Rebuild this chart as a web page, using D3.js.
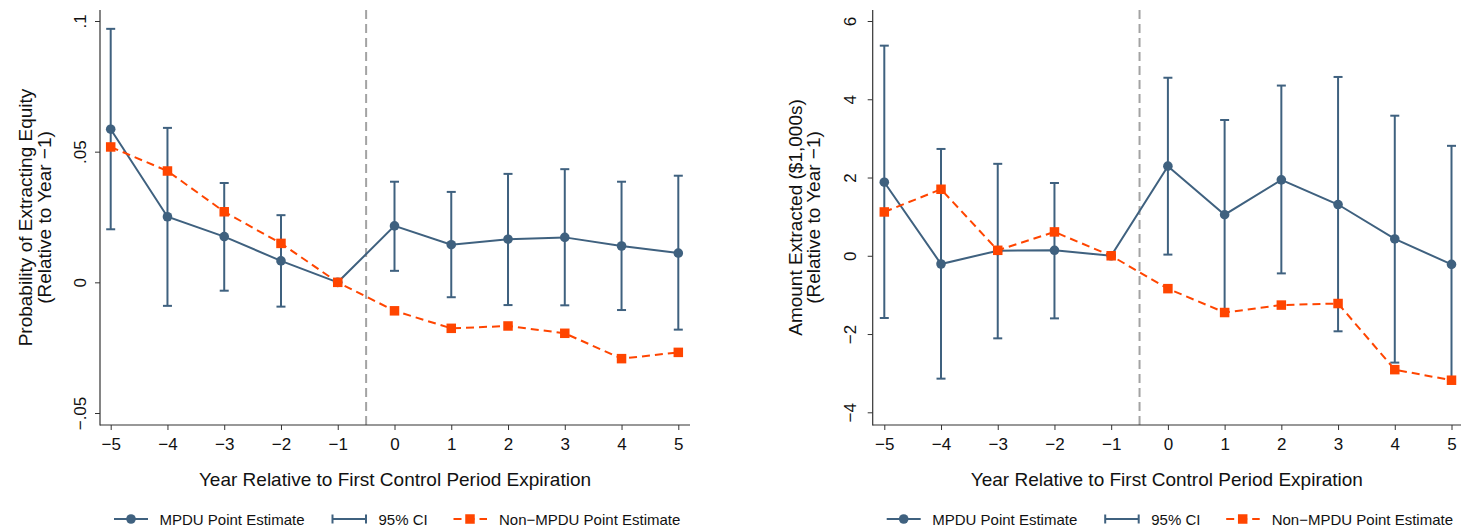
<!DOCTYPE html>
<html>
<head>
<meta charset="utf-8">
<script src="https://cdn.jsdelivr.net/npm/d3@7"></script>
<style>
  html, body { margin: 0; padding: 0; background: #fff; }
  svg { display: block; font-family: "Liberation Sans", Arial, Helvetica, sans-serif; }
</style>
</head>
<body>
<svg id="chart" width="1461" height="528"></svg>
<script>
// ---------- DATA ----------
const years = [-5, -4, -3, -2, -1, 0, 1, 2, 3, 4, 5];
const xTickLabels = ["\u22125", "\u22124", "\u22123", "\u22122", "\u22121", "0", "1", "2", "3", "4", "5"];

// Left panel: probability of extracting equity
const probMPDU = [0.0586, 0.0251, 0.0175, 0.0082, 0, 0.0216, 0.0144, 0.0165, 0.0172, 0.0139, 0.0112];
const probLow  = [0.0203, -0.0090, -0.0032, -0.0093, null, 0.0044, -0.0057, -0.0087, -0.0088, -0.0106, -0.0181];
const probHigh = [0.0970, 0.0591, 0.0380, 0.0257, null, 0.0385, 0.0346, 0.0415, 0.0433, 0.0385, 0.0408];
const probNon  = [0.0518, 0.0426, 0.0270, 0.0149, 0, -0.0109, -0.0176, -0.0167, -0.0195, -0.0292, -0.0268];
const probTicks = [-0.05, 0, 0.05, 0.1];
const probTickLabels = ["\u2212.05", "0", ".05", ".1"];

// Right panel: amount extracted ($1,000s)
const amtMPDU = [1.88, -0.21, 0.13, 0.14, 0, 2.29, 1.05, 1.94, 1.31, 0.43, -0.22];
const amtLow  = [-1.59, -3.14, -2.11, -1.60, null, 0.03, -1.37, -0.45, -1.93, -2.73, -3.25];
const amtHigh = [5.37, 2.73, 2.35, 1.86, null, 4.55, 3.47, 4.35, 4.57, 3.58, 2.81];
const amtNon  = [1.12, 1.70, 0.14, 0.61, 0, -0.84, -1.45, -1.26, -1.22, -2.91, -3.18];
const amtTicks = [-4, -2, 0, 2, 4, 6];
const amtTickLabels = ["\u22124", "\u22122", "0", "2", "4", "6"];

const xTitle = "Year Relative to First Control Period Expiration";
const legendLabels = ["MPDU Point Estimate", "95% CI", "Non\u2212MPDU Point Estimate"];

// ---------- STYLE / LAYOUT ----------
const C_MPDU = "#3f617f";
const C_NON = "#ff4500";
const C_AXIS = "#333";
const C_REF = "#a3a3a3";

const svg = d3.select("#chart");

const panels = [
  {
    axisX: 100, axisRight: 690, top: 10, bottom: 425,
    xRange: [110.7, 678.3], yDomain: [-0.05, 0.1], yRange: [413, 21],
    mpdu: probMPDU, lo: probLow, hi: probHigh, non: probNon,
    yTicks: probTicks, yTickLabels: probTickLabels, yLabelOff: 14,
    yTitle: ["Probability of Extracting Equity", "(Relative to Year \u22121)"],
    yTitleX: [32, 51]
  },
  {
    axisX: 872.7, axisRight: 1461, top: 10, bottom: 425,
    xRange: [884.3, 1451.5], yDomain: [-4, 6], yRange: [412.3, 21],
    mpdu: amtMPDU, lo: amtLow, hi: amtHigh, non: amtNon,
    yTicks: amtTicks, yTickLabels: amtTickLabels, yLabelOff: 16.5,
    yTitle: ["Amount Extracted ($1,000s)", "(Relative to Year \u22121)"],
    yTitleX: [801.5, 820]
  }
];

panels.forEach(p => {
  const g = svg.append("g");
  const x = d3.scaleLinear().domain([years[0], years[years.length - 1]]).range(p.xRange);
  const y = d3.scaleLinear().domain(p.yDomain).range(p.yRange);

  // Reference vertical dashed line at -0.5
  g.append("line")
    .attr("x1", x(-0.5)).attr("x2", x(-0.5))
    .attr("y1", p.top).attr("y2", p.bottom)
    .attr("stroke", C_REF).attr("stroke-width", 2)
    .attr("stroke-dasharray", "9,5");

  // Axes
  const xAxis = d3.axisBottom(x)
    .tickValues(years)
    .tickFormat((d, i) => xTickLabels[i])
    .tickSize(5).tickSizeOuter(0).tickPadding(6);
  const gx = g.append("g").attr("transform", `translate(0,${p.bottom})`).call(xAxis);
  gx.select(".domain").remove();
  gx.selectAll(".tick line").attr("stroke", C_AXIS);
  gx.selectAll(".tick text")
    .attr("font-size", 17).attr("fill", "#111")
    .attr("font-family", "Liberation Sans, Arial, sans-serif")
    .attr("y", 25).attr("dy", null);

  const yAxis = d3.axisLeft(y)
    .tickValues(p.yTicks)
    .tickFormat((d, i) => p.yTickLabels[i])
    .tickSize(5).tickSizeOuter(0);
  const gy = g.append("g").attr("transform", `translate(${p.axisX},0)`).call(yAxis);
  gy.select(".domain").remove();
  gy.selectAll(".tick line").attr("stroke", C_AXIS);
  gy.selectAll(".tick text")
    .attr("font-size", 17).attr("fill", "#111")
    .attr("font-family", "Liberation Sans, Arial, sans-serif")
    .attr("x", null).attr("dy", null)
    .attr("text-anchor", "middle")
    .attr("transform", `translate(${-p.yLabelOff},0) rotate(-90)`);

  // Axis lines
  g.append("line").attr("x1", p.axisX).attr("x2", p.axisX)
    .attr("y1", p.top).attr("y2", p.bottom + 0.5)
    .attr("stroke", C_AXIS).attr("stroke-width", 1.2);
  g.append("line").attr("x1", p.axisX).attr("x2", p.axisRight)
    .attr("y1", p.bottom).attr("y2", p.bottom)
    .attr("stroke", C_AXIS).attr("stroke-width", 1.2);

  // Y title
  const midY = (p.top + p.bottom) / 2;
  p.yTitle.forEach((t, i) => {
    g.append("text")
      .attr("transform", `translate(${p.yTitleX[i]},${midY}) rotate(-90)`)
      .attr("text-anchor", "middle")
      .attr("font-size", 19).attr("fill", "#111")
      .text(t);
  });

  // X title
  g.append("text")
    .attr("x", (p.axisX + p.axisRight) / 2).attr("y", 486)
    .attr("text-anchor", "middle")
    .attr("font-size", 19).attr("fill", "#111")
    .text(xTitle);

  // CI bars
  const ci = years.map((yr, i) => ({ yr, lo: p.lo[i], hi: p.hi[i] })).filter(d => d.lo !== null);
  const capW = 4.5;
  const cig = g.append("g").attr("stroke", C_MPDU).attr("stroke-width", 2);
  ci.forEach(d => {
    cig.append("line").attr("x1", x(d.yr)).attr("x2", x(d.yr)).attr("y1", y(d.lo)).attr("y2", y(d.hi));
    cig.append("line").attr("x1", x(d.yr) - capW).attr("x2", x(d.yr) + capW).attr("y1", y(d.lo)).attr("y2", y(d.lo));
    cig.append("line").attr("x1", x(d.yr) - capW).attr("x2", x(d.yr) + capW).attr("y1", y(d.hi)).attr("y2", y(d.hi));
  });

  // MPDU line and points
  const line = d3.line().x((d, i) => x(years[i])).y(d => y(d));
  g.append("path").datum(p.mpdu).attr("d", line)
    .attr("fill", "none").attr("stroke", C_MPDU).attr("stroke-width", 2);
  g.selectAll(null).data(p.mpdu).enter().append("circle")
    .attr("cx", (d, i) => x(years[i])).attr("cy", d => y(d)).attr("r", 4.8)
    .attr("fill", C_MPDU);

  // Non-MPDU line and squares
  g.append("path").datum(p.non).attr("d", line)
    .attr("fill", "none").attr("stroke", C_NON).attr("stroke-width", 2)
    .attr("stroke-dasharray", "8,5");
  const s = 9.5;
  g.selectAll(null).data(p.non).enter().append("rect")
    .attr("x", (d, i) => x(years[i]) - s / 2).attr("y", d => y(d) - s / 2)
    .attr("width", s).attr("height", s).attr("fill", C_NON);

  // Legend
  const lg = g.append("g").attr("transform", `translate(${p.axisX},0)`);
  const ly = 519, lt = 524.5;
  // MPDU
  lg.append("line").attr("x1", 14).attr("x2", 48).attr("y1", ly).attr("y2", ly)
    .attr("stroke", C_MPDU).attr("stroke-width", 2);
  lg.append("circle").attr("cx", 31).attr("cy", ly).attr("r", 4.8).attr("fill", C_MPDU);
  lg.append("text").attr("x", 59.5).attr("y", lt).attr("font-size", 15).attr("fill", "#111").text(legendLabels[0]);
  // CI
  lg.append("line").attr("x1", 232.5).attr("x2", 266).attr("y1", ly).attr("y2", ly)
    .attr("stroke", C_MPDU).attr("stroke-width", 2);
  lg.append("line").attr("x1", 232.5).attr("x2", 232.5).attr("y1", ly - 4.5).attr("y2", ly + 4.5)
    .attr("stroke", C_MPDU).attr("stroke-width", 2);
  lg.append("line").attr("x1", 266).attr("x2", 266).attr("y1", ly - 4.5).attr("y2", ly + 4.5)
    .attr("stroke", C_MPDU).attr("stroke-width", 2);
  lg.append("text").attr("x", 278.5).attr("y", lt).attr("font-size", 15).attr("fill", "#111").text(legendLabels[1]);
  // Non-MPDU
  lg.append("line").attr("x1", 353.5).attr("x2", 387).attr("y1", ly).attr("y2", ly)
    .attr("stroke", C_NON).attr("stroke-width", 2).attr("stroke-dasharray", "8,5");
  lg.append("rect").attr("x", 370 - s / 2).attr("y", ly - s / 2).attr("width", s).attr("height", s).attr("fill", C_NON);
  lg.append("text").attr("x", 399).attr("y", lt).attr("font-size", 15).attr("fill", "#111").text(legendLabels[2]);
});
</script>
</body>
</html>
